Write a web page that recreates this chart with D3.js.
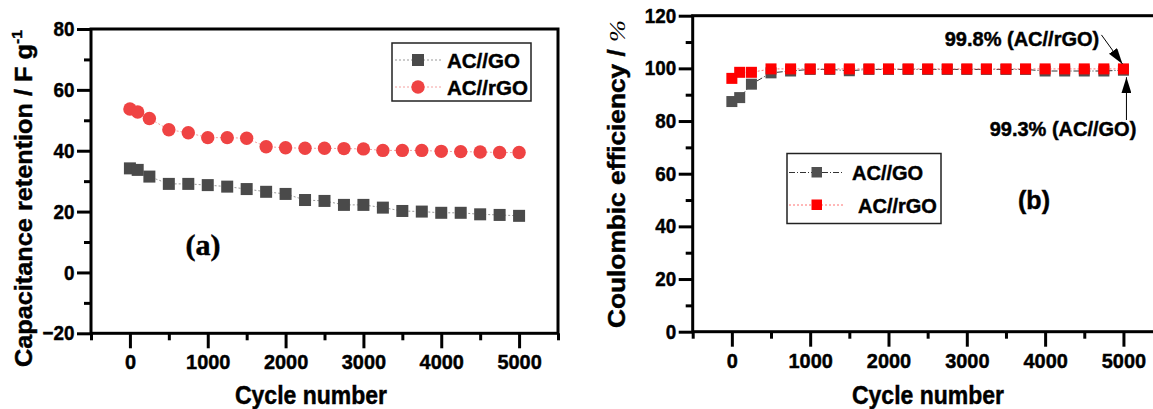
<!DOCTYPE html>
<html>
<head>
<meta charset="utf-8">
<script src="https://cdn.jsdelivr.net/npm/d3@7"></script>
<style>
  body { margin: 0; background: #fff; }
  svg { display: block; font-family: "Liberation Sans", Arial, sans-serif; font-weight: bold; }
  svg text { stroke: #000; stroke-width: 0.45px; fill: #000; }
  .tick text { font-family: "Liberation Sans", Arial, sans-serif; font-weight: bold; fill: #000; }
</style>
</head>
<body>
<div id="chart"></div>
<script>
// cycle numbers shared by both panels
var cycles = [0, 100, 250, 500, 750, 1000, 1250, 1500, 1750, 2000, 2250, 2500,
              2750, 3000, 3250, 3500, 3750, 4000, 4250, 4500, 4750, 5000];

// (a) capacitance retention, F/g
var capGO  = [34.2, 33.7, 31.5, 29.1, 29.1, 28.7, 28.2, 27.4, 26.5, 25.8, 23.8, 23.5,
              22.2, 22.2, 21.3, 20.2, 20.0, 19.6, 19.6, 19.1, 18.9, 18.6];
var capRGO = [53.7, 52.7, 50.6, 46.9, 45.9, 44.3, 44.3, 44.1, 41.3, 41.0, 40.8, 40.8,
              40.7, 40.6, 40.1, 40.1, 40.1, 39.8, 39.7, 39.6, 39.4, 39.4];

// (b) coulombic efficiency, %
var ceGO  = [87.4, 88.9, 94.0, 98.3, 99.0, 99.6, 99.6, 99.1, 99.6, 99.6, 99.6, 99.6,
             99.6, 99.6, 99.6, 99.6, 99.6, 99.0, 99.0, 99.0, 99.0, 99.3];
var ceRGO = [96.2, 98.5, 98.5, 99.8, 99.8, 99.8, 99.8, 99.8, 99.8, 99.8, 99.8, 99.8,
             99.8, 99.8, 99.8, 99.8, 99.8, 99.8, 99.8, 99.8, 99.8, 99.8];

var xMajor = [0, 1000, 2000, 3000, 4000, 5000];
var xMinor = [-500, 500, 1500, 2500, 3500, 4500, 5500];
var capMajor = [-20, 0, 20, 40, 60, 80];
var capMinor = [-10, 10, 30, 50, 70];
var ceMajor = [0, 20, 40, 60, 80, 100, 120];
var ceMinor = [10, 30, 50, 70, 90, 110];

var W = 1153, H = 409;
var svg = d3.select("#chart").append("svg")
    .attr("width", W)
    .attr("height", H);

var defs = svg.append("defs");
defs.append("marker")
    .attr("id", "arrow")
    .attr("viewBox", "0 0 16 10")
    .attr("refX", 16)
    .attr("refY", 5)
    .attr("markerWidth", 16)
    .attr("markerHeight", 10)
    .attr("markerUnits", "userSpaceOnUse")
    .attr("orient", "auto")
    .append("path")
    .attr("d", "M0,0L16,5L0,10Z")
    .attr("fill", "#000");

function drawAxes(g, x, y, yMajor, yMinor, tickY, tickX) {
    var r = x.range(), d = y.range();
    // minor ticks
    g.append("g")
        .attr("transform", "translate(0," + d[0] + ")")
        .call(d3.axisBottom(x).tickValues(xMinor).tickSize(7).tickFormat(""))
        .call(function(s) { s.select(".domain").remove(); })
        .selectAll("line").attr("stroke-width", 3);
    g.append("g")
        .attr("transform", "translate(" + r[0] + ",0)")
        .call(d3.axisLeft(y).tickValues(yMinor).tickSize(7).tickFormat(""))
        .call(function(s) { s.select(".domain").remove(); })
        .selectAll("line").attr("stroke-width", 3);
    // major ticks
    var xa = g.append("g")
        .attr("transform", "translate(0," + d[0] + ")")
        .call(d3.axisBottom(x).tickValues(xMajor).tickSize(15).tickPadding(6)
            .tickFormat(d3.format("d")));
    xa.select(".domain").remove();
    xa.selectAll("line").attr("stroke-width", 3);
    xa.selectAll("text").attr("font-size", tickX).attr("dy", "0.71em")
        .attr("transform", "scale(0.95,1)");
    var ya = g.append("g")
        .attr("transform", "translate(" + r[0] + ",0)")
        .call(d3.axisLeft(y).tickValues(yMajor).tickSize(14).tickPadding(4)
            .tickFormat(d3.format("d")));
    ya.select(".domain").remove();
    ya.selectAll("line").attr("stroke-width", 3);
    ya.selectAll("text").attr("font-size", tickY)
        .attr("transform", "scale(0.92,1)");
    // frame
    g.append("rect")
        .attr("x", r[0]).attr("y", d[1])
        .attr("width", r[1] - r[0]).attr("height", d[0] - d[1])
        .attr("fill", "none").attr("stroke", "#000").attr("stroke-width", 3);
}

// ---------- panel (a) ----------
var xa = d3.scaleLinear().domain([-500, 5500]).range([91, 558]);
var ya = d3.scaleLinear().domain([-20, 80]).range([333.3, 29]);
var ga = svg.append("g");

var lineA = d3.line().x(function(d) { return xa(d[0]); }).y(function(d) { return ya(d[1]); });
var goA = d3.zip(cycles, capGO), rgoA = d3.zip(cycles, capRGO);

ga.append("path").datum(goA).attr("d", lineA)
    .attr("fill", "none").attr("stroke", "#999").attr("stroke-width", 1)
    .attr("stroke-dasharray", "2,2");
ga.append("path").datum(rgoA).attr("d", lineA)
    .attr("fill", "none").attr("stroke", "#f4a0a0").attr("stroke-width", 1)
    .attr("stroke-dasharray", "2,2");

ga.selectAll("rect.go").data(goA).enter().append("rect")
    .attr("class", "go")
    .attr("x", function(d) { return xa(d[0]) - 6; })
    .attr("y", function(d) { return ya(d[1]) - 6; })
    .attr("width", 12).attr("height", 12)
    .attr("fill", "#4a4a4a");
ga.selectAll("circle.rgo").data(rgoA).enter().append("circle")
    .attr("class", "rgo")
    .attr("cx", function(d) { return xa(d[0]); })
    .attr("cy", function(d) { return ya(d[1]); })
    .attr("r", 6.7)
    .attr("fill", "#ef4343");

drawAxes(ga, xa, ya, capMajor, capMinor, 20.5, 21);

// legend (a)
var la = ga.append("g");
la.append("rect").attr("x", 392).attr("y", 43).attr("width", 139).attr("height", 58)
    .attr("fill", "#fff").attr("stroke", "#222").attr("stroke-width", 1.5);
la.append("line").attr("x1", 395).attr("x2", 442).attr("y1", 60).attr("y2", 60)
    .attr("stroke", "#999").attr("stroke-dasharray", "2,2");
la.append("rect").attr("x", 412).attr("y", 54).attr("width", 12).attr("height", 12).attr("fill", "#4a4a4a");
la.append("text").attr("x", 447).attr("y", 67.5).attr("font-size", 20.5).text("AC//GO");
la.append("line").attr("x1", 395).attr("x2", 442).attr("y1", 87).attr("y2", 87)
    .attr("stroke", "#f4a0a0").attr("stroke-dasharray", "2,2");
la.append("circle").attr("cx", 418).attr("cy", 87).attr("r", 6.7).attr("fill", "#ef4343");
la.append("text").attr("x", 447).attr("y", 94.5).attr("font-size", 20.5).text("AC//rGO");

ga.append("text").attr("x", 203).attr("y", 255).attr("text-anchor", "middle")
    .attr("font-family", "'Liberation Serif', 'Times New Roman', serif")
    .attr("font-size", 30).text("(a)");

ga.append("text").attr("x", 311).attr("y", 404).attr("text-anchor", "middle")
    .attr("font-size", 25).attr("transform", "translate(311,0) scale(0.92,1) translate(-311,0)")
    .text("Cycle number");

var tA = ga.append("text")
    .attr("transform", "translate(32,198.5) rotate(-90)")
    .attr("text-anchor", "middle").attr("font-size", 24)
    .attr("textLength", 337).attr("lengthAdjust", "spacingAndGlyphs");
tA.append("tspan").text("Capacitance retention / F g");
tA.append("tspan").attr("font-size", 15).attr("dy", -10).text("-1");

// ---------- panel (b) ----------
var xb = d3.scaleLinear().domain([-500, 5500]).range([692.7, 1162.6]);
var yb = d3.scaleLinear().domain([0, 120]).range([331.7, 15.7]);
var gb = svg.append("g");

var lineB = d3.line().x(function(d) { return xb(d[0]); }).y(function(d) { return yb(d[1]); });
var goB = d3.zip(cycles, ceGO), rgoB = d3.zip(cycles, ceRGO);

gb.append("path").datum(goB).attr("d", lineB)
    .attr("fill", "none").attr("stroke", "#333").attr("stroke-width", 1)
    .attr("stroke-dasharray", "6,2,1,2");
gb.selectAll("rect.go").data(goB).enter().append("rect")
    .attr("class", "go")
    .attr("x", function(d) { return xb(d[0]) - 5.5; })
    .attr("y", function(d) { return yb(d[1]) - 5.5; })
    .attr("width", 11).attr("height", 11)
    .attr("fill", "#505050");
gb.append("path").datum(rgoB).attr("d", lineB)
    .attr("fill", "none").attr("stroke", "#ff7070").attr("stroke-width", 1)
    .attr("stroke-dasharray", "2,2");
gb.selectAll("rect.rgo").data(rgoB).enter().append("rect")
    .attr("class", "rgo")
    .attr("x", function(d) { return xb(d[0]) - 5.5; })
    .attr("y", function(d) { return yb(d[1]) - 5.5; })
    .attr("width", 11).attr("height", 11)
    .attr("fill", "#ff0000");

drawAxes(gb, xb, yb, ceMajor, ceMinor, 20.5, 21);

// legend (b)
var lb = gb.append("g");
lb.append("rect").attr("x", 787).attr("y", 153.5).attr("width", 154).attr("height", 70)
    .attr("fill", "#fff").attr("stroke", "#222").attr("stroke-width", 1.5);
lb.append("line").attr("x1", 789).attr("x2", 843).attr("y1", 172.5).attr("y2", 172.5)
    .attr("stroke", "#333").attr("stroke-dasharray", "6,2,1,2");
lb.append("rect").attr("x", 811.5).attr("y", 167).attr("width", 10.5).attr("height", 10.5).attr("fill", "#505050");
lb.append("text").attr("x", 852).attr("y", 180).attr("font-size", 20).text("AC//GO");
lb.append("line").attr("x1", 789).attr("x2", 843).attr("y1", 205).attr("y2", 205)
    .attr("stroke", "#ff7070").attr("stroke-dasharray", "2,2");
lb.append("rect").attr("x", 811.5).attr("y", 199.5).attr("width", 10.5).attr("height", 10.5).attr("fill", "#ff0000");
lb.append("text").attr("x", 858).attr("y", 212.5).attr("font-size", 20).text("AC//rGO");

gb.append("text").attr("x", 1034).attr("y", 209).attr("text-anchor", "middle")
    .attr("font-size", 25).text("(b)");

// annotations at the last cycle
var lastX = xb(cycles[cycles.length - 1]);
var lastR = yb(ceRGO[ceRGO.length - 1]);
var lastG = yb(ceGO[ceGO.length - 1]);
gb.append("line").attr("x1", lastX - 22).attr("y1", lastR - 34)
    .attr("x2", lastX - 1).attr("y2", lastR - 5)
    .attr("stroke", "#000").attr("stroke-width", 1).attr("marker-end", "url(#arrow)");
gb.append("text").attr("x", 1022).attr("y", 45.5).attr("text-anchor", "middle")
    .attr("font-size", 20).text("99.8% (AC//rGO)");
gb.append("line").attr("x1", lastX + 3).attr("y1", 120)
    .attr("x2", lastX + 3).attr("y2", lastG + 7)
    .attr("stroke", "#000").attr("stroke-width", 1).attr("marker-end", "url(#arrow)");
gb.append("text").attr("x", 1063).attr("y", 135.5).attr("text-anchor", "middle")
    .attr("font-size", 20).text("99.3% (AC//GO)");

gb.append("text").attr("x", 928).attr("y", 404).attr("text-anchor", "middle")
    .attr("font-size", 25).attr("transform", "translate(928,0) scale(0.92,1) translate(-928,0)")
    .text("Cycle number");

var tB = gb.append("text")
    .attr("transform", "translate(625,174) rotate(-90)")
    .attr("text-anchor", "middle").attr("font-size", 24)
    .attr("textLength", 308).attr("lengthAdjust", "spacingAndGlyphs");
tB.append("tspan").text("Coulombic efficiency / ");
tB.append("tspan").attr("font-family", "'Liberation Serif', serif").attr("font-style", "italic")
    .attr("font-weight", "normal").attr("stroke-width", 0).text("%");
</script>
</body>
</html>
